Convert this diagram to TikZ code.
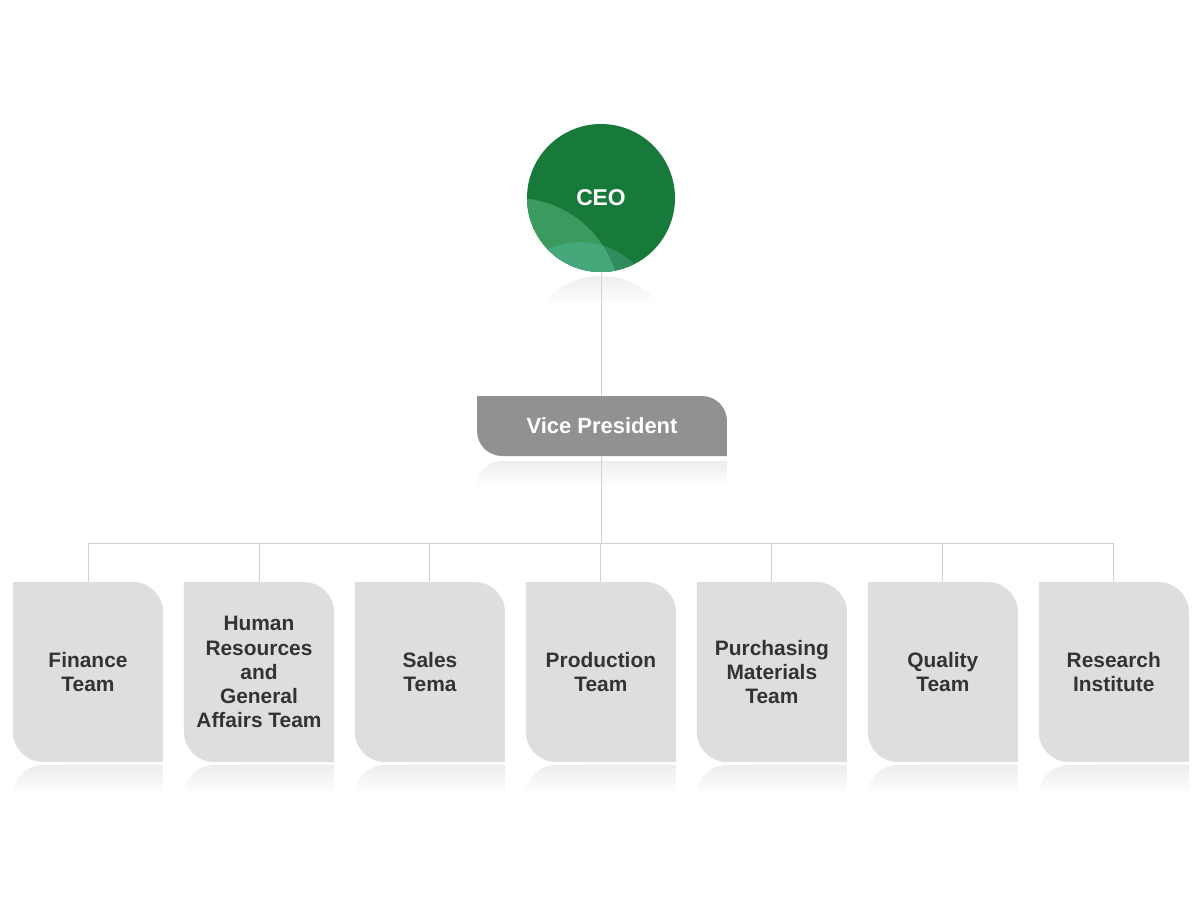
\documentclass[tikz,border=0pt]{standalone}
\usepackage{fontspec}
\setmainfont{Liberation Sans}
\usepackage{xcolor}
\usetikzlibrary{positioning,calc}
\definecolor{ceogreen}{HTML}{177A3A}
\definecolor{ceomid}{HTML}{3B9B5E}
\definecolor{ceoedge}{HTML}{2F8C5C}
\definecolor{ceolight}{HTML}{45A87B}
\definecolor{vpgray}{HTML}{919191}
\definecolor{leafgray}{HTML}{DDDFDE}
\definecolor{textdark}{HTML}{333333}
\definecolor{linegray}{HTML}{D0D0D0}
\tikzset{
	conn/.style={draw=linegray, line width=0.5pt},
	glow/.style={top color=black!7, bottom color=white},
	leaf/.style={minimum width=3cm, minimum height=3.6cm, inner sep=0pt, outer sep=0pt,
		align=center, text=textdark, font=\fontsize{11.9}{13.7}\selectfont\bfseries,
		path picture={\fill[leafgray] (path picture bounding box.north west)
			-- ([xshift=-0.6cm]path picture bounding box.north east)
			arc[start angle=90, end angle=0, radius=0.6cm]
			-- (path picture bounding box.south east)
			-- ([xshift=0.6cm]path picture bounding box.south west)
			arc[start angle=270, end angle=180, radius=0.6cm] -- cycle;}},
	vpbox/.style={minimum width=5cm, minimum height=1.2cm, inner sep=0pt, outer sep=0pt,
		align=center, text=white, font=\fontsize{12.5}{14}\selectfont\bfseries,
		path picture={\fill[vpgray] (path picture bounding box.north west)
			-- ([xshift=-0.5cm]path picture bounding box.north east)
			arc[start angle=90, end angle=0, radius=0.5cm]
			-- (path picture bounding box.south east)
			-- ([xshift=0.5cm]path picture bounding box.south west)
			arc[start angle=270, end angle=180, radius=0.5cm] -- cycle;}},
	ceobox/.style={circle, minimum size=2.96cm, inner sep=0pt, outer sep=0pt, fill=ceogreen,
		text=white, font=\fontsize{13}{15}\selectfont\bfseries,
		path picture={
			\fill[ceomid] ($(path picture bounding box.center)+(-86,105)$) circle[radius=2.1cm];
			\fill[ceoedge] ($(path picture bounding box.center)+(-21,121)$) circle[radius=1.54cm];
			\begin{scope}
				\clip ($(path picture bounding box.center)+(-86,105)$) circle[radius=2.1cm];
				\fill[ceolight] ($(path picture bounding box.center)+(-21,121)$) circle[radius=1.54cm];
			\end{scope}}}
}
\begin{document}
\begin{tikzpicture}[x=0.02cm, y=-0.02cm, node distance=0.42cm]
	\useasboundingbox[fill=white] (0,0) rectangle (1200,900);
	
	%% -- Top of the chart
	\node[ceobox] (ceo) at (601,198) {CEO};
	\node[vpbox] (vp) at (602,426) {Vice President};
	\coordinate (bus) at (601,543);
	
	%% -- Teams
	\node[leaf] (fin) at (88,672) {Finance\\Team};
	\node[leaf, right=of fin] (hr) {Human\\Resources\\and\\General\\Affairs Team};
	\node[leaf, right=of hr] (sal) {Sales\\Tema};
	\node[leaf, right=of sal] (pro) {Production\\Team};
	\node[leaf, right=of pro] (pur) {Purchasing\\Materials\\Team};
	\node[leaf, right=of pur] (qua) {Quality\\Team};
	\node[leaf, right=of qua] (res) {Research\\Institute};
	
	%% -- Soft reflections
	\begin{scope}
		\clip ($(ceo.center)+(0,152)$) circle[radius=1.48cm];
		\shade[glow] ($(ceo.south)+(-75,4)$) rectangle ($(ceo.south)+(75,32)$);
	\end{scope}
	\shade[glow] ($(vp.south west)+(0,30)$) arc[start angle=180, end angle=90, radius=0.5cm]
	-- ($(vp.south east)+(0,5)$) -- ($(vp.south east)+(0,30)$) -- cycle;
	\foreach \t in {fin,hr,sal,pro,pur,qua,res}
	\shade[glow] ($(\t.south west)+(0,33)$) arc[start angle=180, end angle=90, radius=0.6cm]
	-- ($(\t.south east)+(0,3)$) -- ($(\t.south east)+(0,33)$) -- cycle;
	
	%% -- Connectors
	\draw[conn] (ceo.south) -- (ceo.south |- vp.north);
	\draw[conn] (vp.south -| bus) -- (bus);
	\draw[conn] (fin.north |- bus) -- (res.north |- bus);
	\foreach \t in {fin,hr,sal,pro,pur,qua,res}
	\draw[conn] (\t.north) -- (\t.north |- bus);
	
\end{tikzpicture}
\end{document}
